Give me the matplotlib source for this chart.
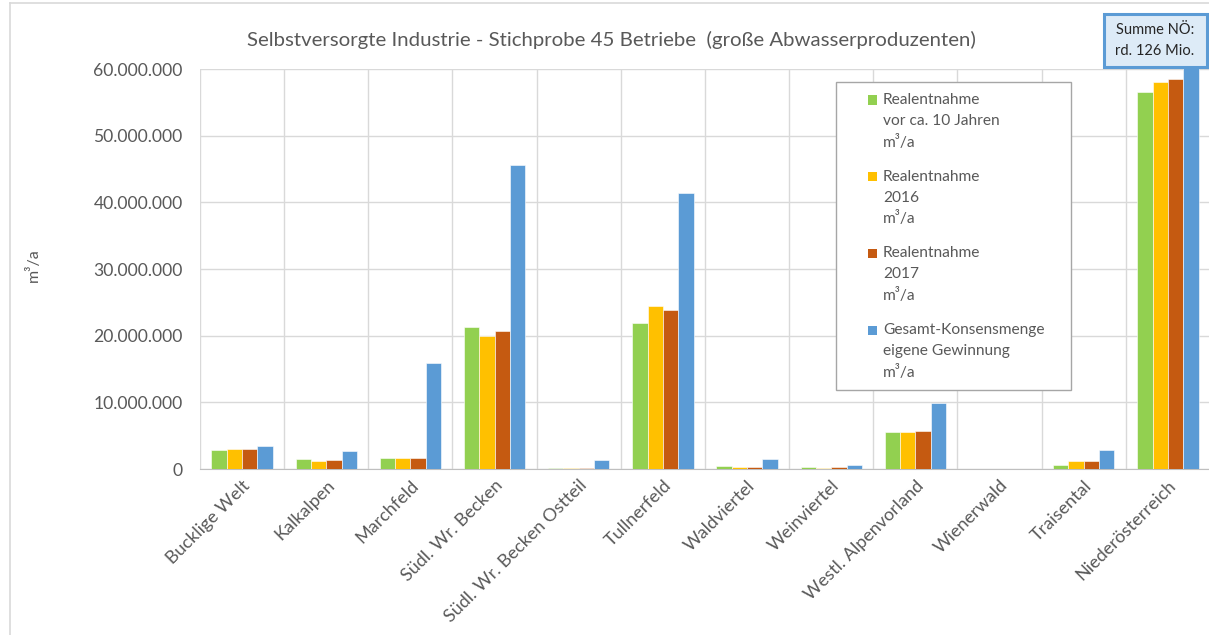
import matplotlib
matplotlib.use("Agg")
import matplotlib.pyplot as plt
import matplotlib.ticker as ticker
from matplotlib.patches import Rectangle
from matplotlib.lines import Line2D
import numpy as np

plt.rcParams['font.family'] = ['Lato', 'DejaVu Sans']

regions = ['Bucklige Welt', 'Kalkalpen', 'Marchfeld', 'Südl. Wr. Becken',
           'Südl. Wr. Becken Ostteil', 'Tullnerfeld', 'Waldviertel', 'Weinviertel',
           'Westl. Alpenvorland', 'Wienerwald', 'Traisental', 'Niederösterreich']

# m³/a
entnahme_vor_10j = [2.8e6, 1.45e6, 1.6e6, 21.25e6, 0.15e6, 21.85e6, 0.45e6, 0.25e6,
                    5.5e6, 0, 0.65e6, 56.55e6]
entnahme_2016 = [2.95e6, 1.25e6, 1.6e6, 20.0e6, 0.1e6, 24.45e6, 0.3e6, 0.2e6,
                 5.6e6, 0, 1.15e6, 58.0e6]
entnahme_2017 = [2.95e6, 1.35e6, 1.7e6, 20.65e6, 0.15e6, 23.85e6, 0.3e6, 0.35e6,
                 5.7e6, 0, 1.15e6, 58.55e6]
konsensmenge = [3.45e6, 2.7e6, 15.9e6, 45.6e6, 1.3e6, 41.45e6, 1.5e6, 0.6e6,
                9.85e6, 0, 2.9e6, 126e6]

series = [entnahme_vor_10j, entnahme_2016, entnahme_2017, konsensmenge]
labels = ['Realentnahme\nvor ca. 10 Jahren\nm³/a',
          'Realentnahme\n2016\nm³/a',
          'Realentnahme\n2017\nm³/a',
          'Gesamt-Konsensmenge\neigene Gewinnung\nm³/a']
colors = ['#92D050', '#FFC000', '#C55A11', '#5B9BD5']

W, H = 1209, 635
txt = '#595959'
grid = '#D9D9D9'

fig = plt.figure(figsize=(W / 100, H / 100), dpi=100)

def fx(px):
    return px / W

def fy(py):
    return 1 - py / H

ax = fig.add_axes([fx(200), fy(469), (1210 - 200) / W, 400 / H])

x = np.arange(len(regions))
bw = 0.182
for i, (vals, c) in enumerate(zip(series, colors)):
    ax.bar(x + (i - 1.5) * bw, vals, bw, color=c, edgecolor='white',
           linewidth=0.4, zorder=3)

ax.set_xlim(-0.5, len(regions) - 0.5)
ax.set_ylim(0, 60e6)
ax.yaxis.set_major_locator(ticker.MultipleLocator(10e6))
ax.yaxis.set_major_formatter(ticker.FuncFormatter(
    lambda v, p: f'{int(v):,}'.replace(',', '.')))
ax.set_xticks(x)
ax.set_xticklabels(regions, rotation=45, ha='right', rotation_mode='anchor',
                   fontsize=13, color=txt)
ax.set_xticks(np.arange(-0.5, len(regions)), minor=True)
ax.tick_params(axis='x', which='both', length=0, pad=6)
ax.tick_params(axis='y', length=0, pad=12.5, labelsize=12.6, labelcolor=txt)
ax.grid(axis='y', color=grid, linewidth=1, zorder=0)
ax.grid(axis='x', which='minor', color=grid, linewidth=1, zorder=0)
ax.grid(axis='x', which='major', visible=False)
for s in ['left', 'right', 'top']:
    ax.spines[s].set_visible(False)
ax.spines['bottom'].set_color('#BFBFBF')

fig.text(fx(33), fy(265), 'm³/a', rotation=90, ha='center', va='center',
         fontsize=11.5, color=txt)
fig.text(fx(611), fy(40), 'Selbstversorgte Industrie - Stichprobe 45 Betriebe  (große Abwasserproduzenten)',
         ha='center', va='center', fontsize=14.7, color=txt)

# outer chart frame
fig.add_artist(Line2D([fx(10), 1], [fy(3), fy(3)], color=grid, linewidth=1.2))
fig.add_artist(Line2D([fx(10), fx(10)], [fy(3), 0], color=grid, linewidth=1.2))

# legend
fig.add_artist(Rectangle((fx(836), fy(390)), fx(1071) - fx(836), fy(82) - fy(390),
                         transform=fig.transFigure, facecolor='white',
                         edgecolor='#A6A6A6', linewidth=1, zorder=5))
for k, (lab, c) in enumerate(zip(labels, colors)):
    y0 = 100 + 76.7 * k
    fig.add_artist(Rectangle((fx(868), fy(y0 + 4.5)), 9 / W, 9 / H,
                             transform=fig.transFigure, facecolor=c,
                             edgecolor='none', zorder=6))
    for j, line in enumerate(lab.split('\n')):
        fig.text(fx(883), fy(y0 + 21 * j), line, ha='left', va='center',
                 fontsize=11.2, color=txt, zorder=6)

# sum annotation
fig.add_artist(Rectangle((fx(1104), fy(67)), fx(1207) - fx(1104), fy(14) - fy(67),
                         transform=fig.transFigure, facecolor='#DDEBF7',
                         edgecolor='#5B9BD5', linewidth=2.2, zorder=5))
fig.text(fx(1155), fy(30), 'Summe NÖ:', ha='center', va='center',
         fontsize=10.5, color='#262626', zorder=6)
fig.text(fx(1155), fy(51), 'rd. 126 Mio.', ha='center', va='center',
         fontsize=10.5, color='#262626', zorder=6)

fig.savefig('out.png', dpi=100)
